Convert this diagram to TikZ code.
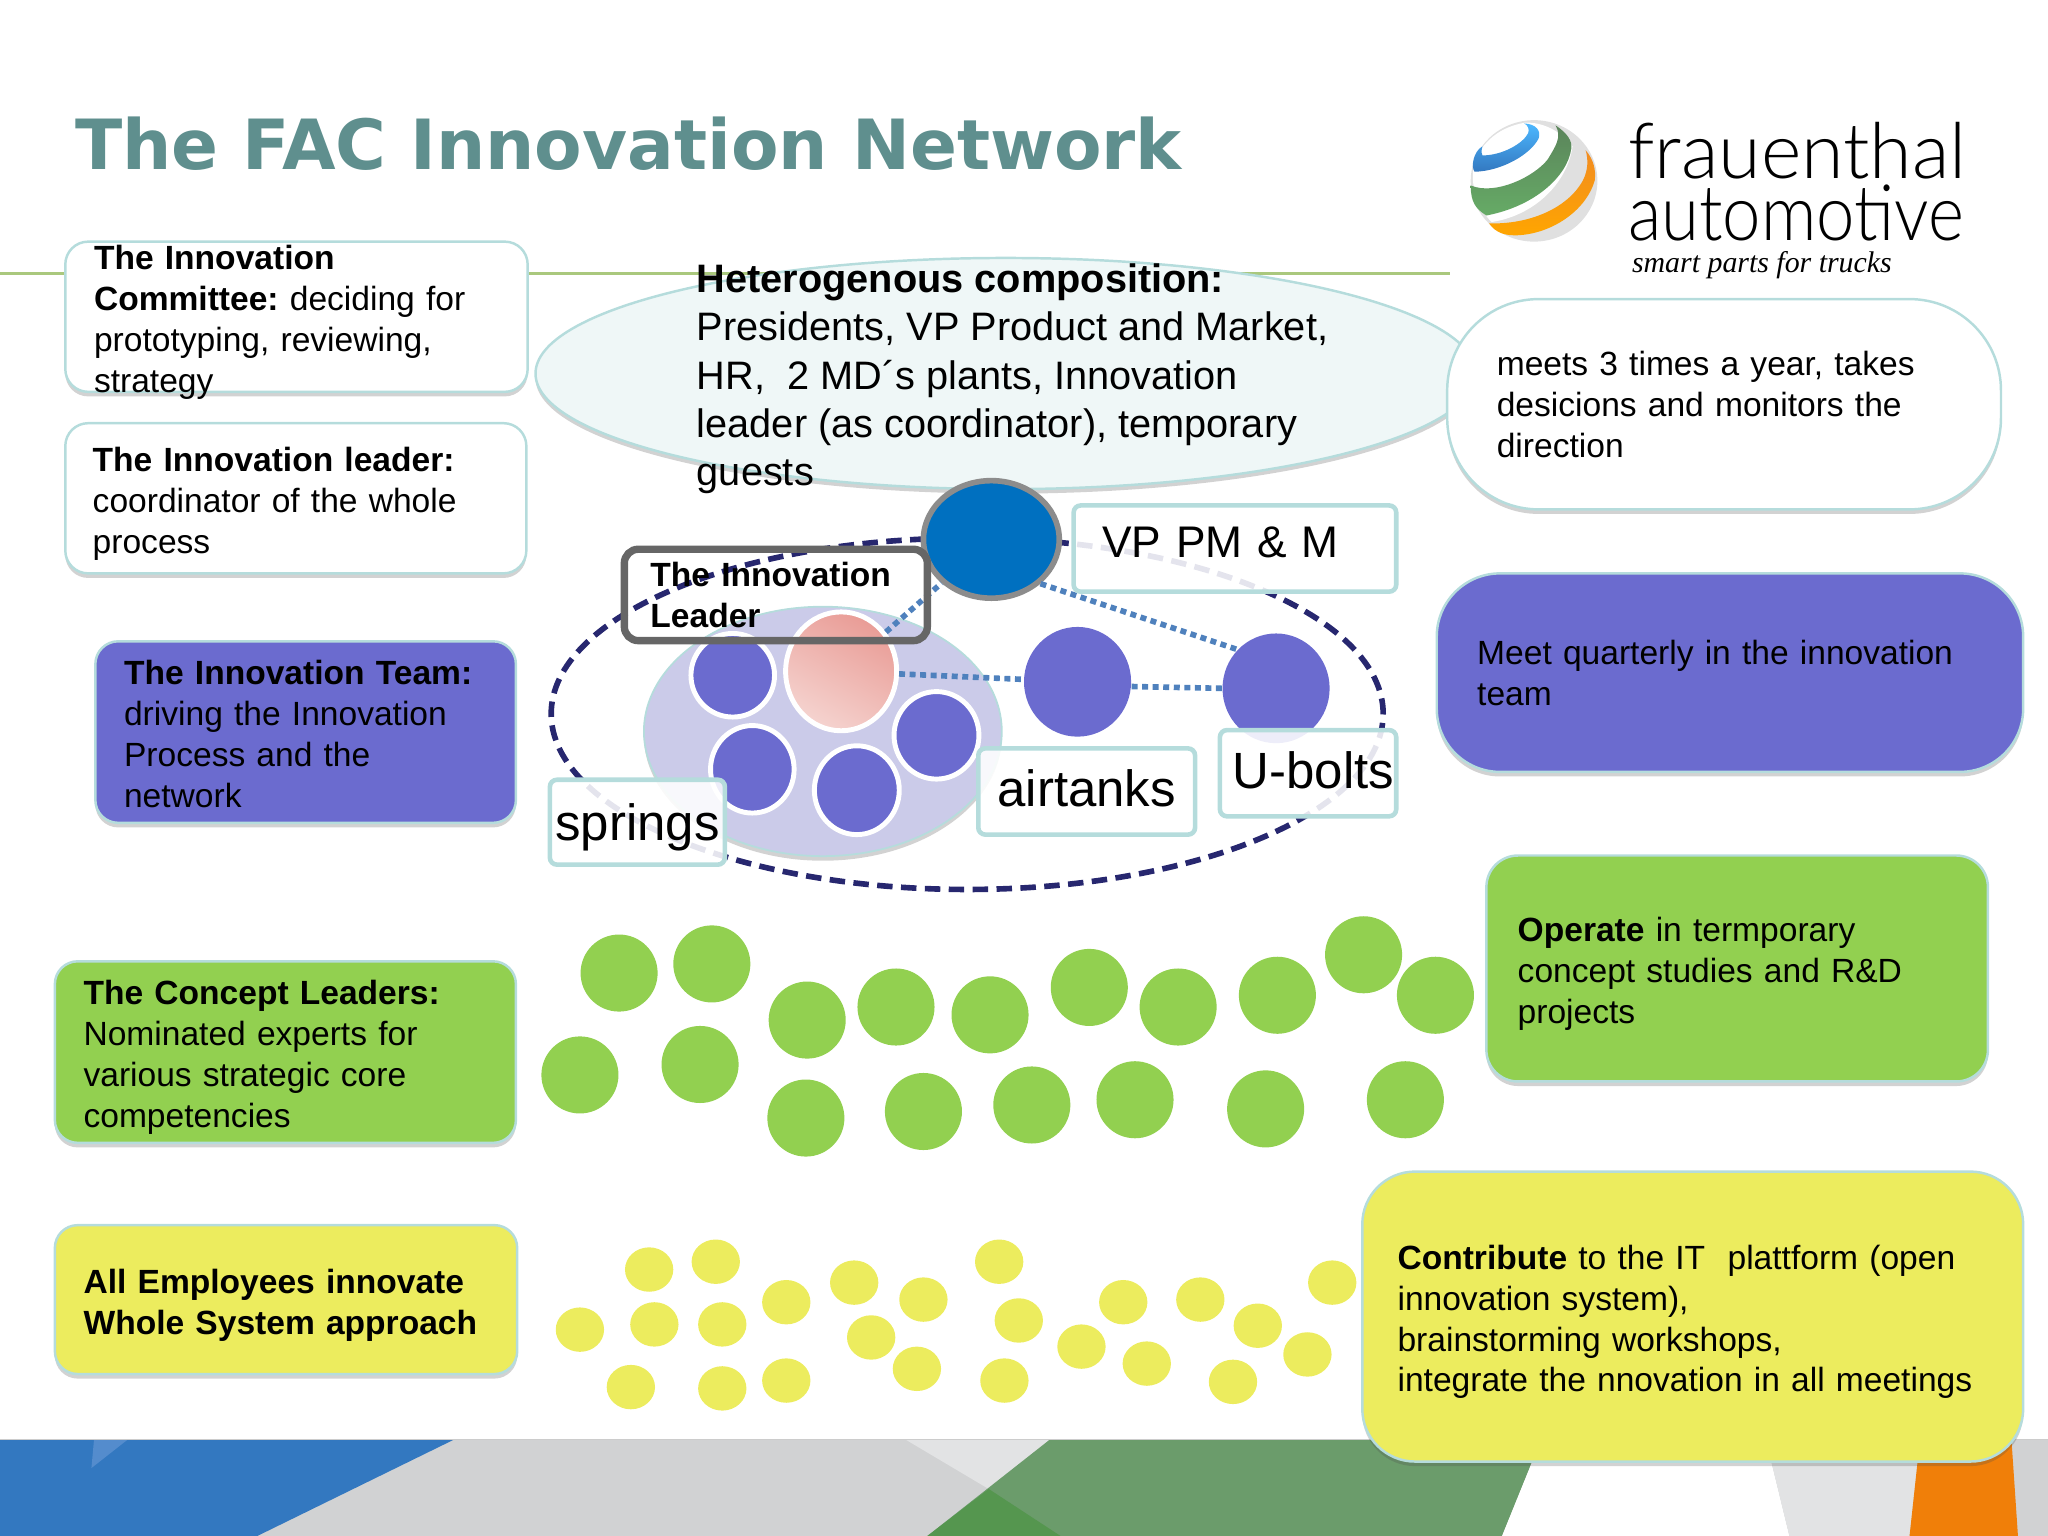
\documentclass[tikz,border=0pt]{standalone}
\usepackage{fontspec}
\setmainfont{Liberation Sans}
\newfontfamily\titlefont{DejaVu Sans}
\newfontfamily\logofont{Lato Light}
\newfontfamily\sloganfont{Liberation Serif}
\usetikzlibrary{shapes.geometric,shadows}
\newcommand{\un}{0.013061cm}
\newcommand{\bodysize}{\frenchspacing\fontsize{9.55}{11.63}\selectfont}
\newcommand{\bigsize}{\frenchspacing\fontsize{11.3}{13.67}\selectfont}
\newcommand{\labelsize}{\fontsize{14.5}{17}\selectfont}
\newcommand{\tagtext}[2]{\raisebox{#1}[0pt][0pt]{#2}}
\definecolor{titleteal}{HTML}{5F8F8E}
\definecolor{edgeteal}{HTML}{B5DCDC}
\definecolor{teampurple}{HTML}{6B6BCF}
\definecolor{poolpurple}{HTML}{CBCBE9}
\definecolor{conceptgreen}{HTML}{92D050}
\definecolor{staffyellow}{HTML}{ECEC5E}
\definecolor{netnavy}{HTML}{27276F}
\definecolor{linkblue}{HTML}{4F81BD}
\definecolor{vpblue}{HTML}{0070C0}
\definecolor{bandgrey}{HTML}{D1D2D3}
\definecolor{bandpale}{HTML}{E2E3E4}
\definecolor{bandblue}{HTML}{3378C0}
\definecolor{bandsky}{HTML}{548CCD}
\definecolor{bandgreen}{HTML}{6B9C6B}
\definecolor{banddeep}{HTML}{55964F}
\definecolor{bandorange}{HTML}{F07F09}
\definecolor{rulegreen}{HTML}{AAC87D}
\definecolor{pinktop}{HTML}{E99C96}
\definecolor{pinklow}{HTML}{F5D3CF}
\tikzset{
	softshadow/.style={drop shadow={shadow xshift=0pt,shadow yshift=-1.3pt,opacity=.25,fill=black!70}},
	textdrop/.style={execute at begin node={\rule{0pt}{#1}}},
	panel/.style={draw=edgeteal,line width=.7pt,softshadow,inner xsep=0pt,inner ysep=-9pt,align=left,font=\bodysize},
	tag/.style={draw=edgeteal,line width=1.3pt,fill=white,fill opacity=.88,text opacity=1,rounded corners=2pt,inner sep=0pt,font=\labelsize},
	member/.style={ellipse,fill=teampurple,inner sep=0pt},
	ringed/.style={member,draw=white,line width=1.4pt},
	link/.style={linkblue,line width=1.6pt,dash pattern=on 1.7pt off 1.3pt},
}
\begin{document}
\begin{tikzpicture}[x=\un,y=-\un]
	\useasboundingbox (0,0) rectangle (1568,1176);
	% band along the bottom
	\fill[bandgrey] (0,1102) rectangle (1568,1176);
	\fill[bandblue] (0,1102) -- (348,1102) -- (197,1176) -- (0,1176) -- cycle;
	\fill[bandsky] (72,1102) -- (98,1102) -- (70,1124) -- cycle;
	\fill[bandpale] (693,1102) -- (804,1102) -- (757,1140) -- cycle;
	\fill[bandgreen] (804,1102) -- (1180,1102) -- (1150,1176) -- (710,1176) -- cycle;
	\fill[banddeep] (757,1140) -- (812,1176) -- (710,1176) -- cycle;
	\fill[white] (1180,1102) -- (1352,1102) -- (1370,1176) -- (1150,1176) -- cycle;
	\fill[bandpale] (1352,1102) -- (1470,1102) -- (1462,1176) -- (1370,1176) -- cycle;
	\fill[bandorange] (1470,1102) -- (1540,1102) -- (1545,1176) -- (1462,1176) -- cycle;
	\draw[black!20] (0,1102) -- (1568,1102);
	%
	\node[anchor=west,inner sep=0pt,text=titleteal,font=\titlefont\bfseries\fontsize{19.7}{24}\selectfont] (title) at (57,110) {The FAC Innovation Network};
	\coordinate (rulea) at (0,209.5);
	\coordinate (ruleb) at (1110,209.5);
	\draw[rulegreen,line width=.7pt] (rulea) -- (ruleb);
	% logo
	\node[ellipse,inner sep=0pt,minimum width=97*\un,minimum height=93*\un,fill=black!12] (globe) at (1174.5,138.5) {};
	\fill[white] (1167,94) .. controls (1145,98) and (1132,112) .. (1128,128) .. controls (1126,145) and (1132,160) .. (1142,170) .. controls (1175,165) and (1200,140) .. (1204,112) .. controls (1195,100) and (1180,93) .. (1167,94) -- cycle;
	\shade[top color=blue!40!cyan!70!white,bottom color=bandblue] (1167,94.5) .. controls (1176,95) and (1180,100) .. (1178,106) .. controls (1172,118) and (1150,131) .. (1129,131.5) .. controls (1126,128) and (1128,116) .. (1135,112) .. controls (1134,116) and (1134,118) .. (1135,119) .. controls (1150,119) and (1166,110) .. (1170,102) .. controls (1171,99) and (1170,96) .. (1167,94.5) -- cycle;
	\shade[top color=bandgreen!85!black,bottom color=green!45!black!60!white] (1191,96) .. controls (1200,102) and (1204,108) .. (1203,114) .. controls (1200,135) and (1175,158) .. (1138,165) .. controls (1130,160) and (1126,155) .. (1126,142) .. controls (1145,150) and (1175,135) .. (1185,122) .. controls (1191,112) and (1196,105) .. (1191,96) -- cycle;
	\shade[top color=bandorange!90!white,bottom color=orange!70!yellow] (1214,115) .. controls (1220,122) and (1222,130) .. (1221,138) .. controls (1215,160) and (1190,178) .. (1164,180) .. controls (1152,181) and (1145,178) .. (1140,171) .. controls (1170,172) and (1200,160) .. (1212,138) .. controls (1216,130) and (1216,122) .. (1214,115) -- cycle;
	\node[anchor=west,inner sep=0pt,font=\logofont\fontsize{22}{22}\selectfont] (brandtop) at (1246,115) {frauenthal};
	\node[anchor=west,inner sep=0pt,font=\logofont\fontsize{22}{22}\selectfont] (brandlow) at (1246,163) {\scalebox{.89}[1]{automot{}ive}};
	\node[anchor=west,inner sep=0pt,font=\sloganfont\itshape\fontsize{8.5}{10}\selectfont] (slogan) at (1249,203) {smart parts for trucks};
	% left column
	\node[panel,textdrop=10pt,fill=white,rounded corners=6.5pt,minimum width=354*\un,minimum height=115*\un,text width=310*\un] (committee) at (227,242.5) {\textbf{The Innovation}\\\textbf{Committee:} deciding for\\prototyping, reviewing,\\strategy};
	\node[panel,textdrop=10pt,fill=white,rounded corners=6.5pt,minimum width=353*\un,minimum height=115*\un,text width=311*\un] (leadertext) at (226.5,381.5) {\textbf{The Innovation leader:}\\coordinator of the whole\\process};
	\node[panel,textdrop=8pt,fill=teampurple,rounded corners=6.5pt,minimum width=322*\un,minimum height=139*\un,text width=278*\un] (team) at (234,560.5) {\textbf{The Innovation Team:}\\driving the Innovation\\Process and the\\network};
	\node[panel,textdrop=10pt,fill=conceptgreen,rounded corners=6.5pt,minimum width=353*\un,minimum height=139*\un,text width=309*\un] (concept) at (218.5,805.5) {\textbf{The Concept Leaders:}\\Nominated experts for\\various strategic core\\competencies};
	\node[panel,textdrop=10pt,fill=staffyellow,rounded corners=6.5pt,minimum width=354*\un,minimum height=114*\un,text width=310*\un] (staff) at (219,995) {\textbf{All Employees innovate}\\\textbf{Whole System approach}};
	% composition cloud
	\node[ellipse,draw=edgeteal,line width=.7pt,fill=edgeteal!22,softshadow,inner sep=0pt,minimum width=720*\un,minimum height=177*\un] (cloud) at (770,286) {};
	\node[anchor=west,inner sep=0pt,align=left,font=\bigsize] (cloudtext) at (533,290) {\textbf{Heterogenous composition:}\\Presidents, VP Product and Market,\\HR,\ \ 2 MD´s plants, Innovation\\leader (as coordinator), temporary\\guests};
	% right column
	\node[panel,fill=white,rounded corners=26pt,minimum width=424*\un,minimum height=161*\un,text width=348*\un] (rhythm) at (1320,309.5) {meets 3 times a year, takes\\desicions and monitors the\\direction};
	\node[panel,fill=teampurple,rounded corners=18pt,minimum width=449*\un,minimum height=152*\un,text width=387*\un] (quarterly) at (1324.5,515) {Meet quarterly in the innovation\\team};
	\node[panel,textdrop=10pt,fill=conceptgreen,rounded corners=9pt,minimum width=384*\un,minimum height=173*\un,text width=336*\un] (operate) at (1330,741.5) {\textbf{Operate} in termporary\\concept studies and R\&D\\projects};
	\node[panel,textdrop=10pt,fill=staffyellow,rounded corners=15pt,minimum width=506*\un,minimum height=222*\un,text width=452*\un] (contribute) at (1296,1008) {\textbf{Contribute} to the IT\ \ plattform (open\\innovation system),\\brainstorming workshops,\\integrate the nnovation in all meetings};
	% network
	\node[ellipse,draw=edgeteal,line width=.5pt,fill=poolpurple,softshadow,inner sep=0pt,minimum width=274*\un,minimum height=191*\un] (pool) at (630,560) {};
	\node[ellipse,draw=netnavy,line width=1.6pt,dash pattern=on 4.4pt off 2.4pt,inner sep=0pt,minimum width=637*\un,minimum height=269*\un] (network) at (740.5,546.5) {};
	\node[ringed,minimum width=64*\un,minimum height=64*\un] (ma) at (561,517) {};
	\node[ringed,minimum width=65*\un,minimum height=67*\un] (mb) at (717,563) {};
	\node[ringed,minimum width=64*\un,minimum height=67*\un] (mc) at (576,589) {};
	\node[ringed,minimum width=65*\un,minimum height=68*\un] (md) at (656,605) {};
	\node[ellipse,draw=white,line width=1.4pt,top color=pinktop,bottom color=pinklow,shading angle=-30,inner sep=0pt,minimum width=85*\un,minimum height=91*\un] (pink) at (644,514) {};
	\node[member,minimum width=82*\un,minimum height=84*\un] (air) at (825,522) {};
	\node[member,minimum width=82*\un,minimum height=84*\un] (ubolt) at (977,527) {};
	\node[ellipse,draw=black!45,line width=1.6pt,fill=vpblue,inner sep=0pt,minimum width=104*\un,minimum height=90*\un] (vp) at (759,413) {};
	\draw[link] (pink) -- (vp);
	\draw[link] (pink) -- (air);
	\draw[link] (air.-5) -- (ubolt.west);
	\draw[link] (vp.-42) -- (ubolt.135);
	%
	\node[tag,minimum width=247*\un,minimum height=66*\un,text width=203*\un,align=left,font=\fontsize{12.6}{15}\selectfont] (vptag) at (945.5,420) {\tagtext{-2.6pt}{VP PM \& M}};
	\node[tag,minimum width=166*\un,minimum height=66*\un] (airtag) at (832,606) {\tagtext{-4.4pt}{airtanks}};
	\node[tag,minimum width=135*\un,minimum height=66*\un] (bolttag) at (1001.5,592) {\hspace*{3pt}\tagtext{-4.3pt}{U-bolts}};
	\node[tag,minimum width=134*\un,minimum height=65*\un] (springtag) at (488,629.5) {\tagtext{-5.2pt}{springs}};
	\node[draw=black!60,line width=2.1pt,rounded corners=4pt,inner xsep=0pt,inner ysep=-5pt,minimum width=232*\un,minimum height=70*\un,text width=192*\un,align=left,font=\bodysize\bfseries] (leadertag) at (594,455.5) {The Innovation\\Leader};
	% concept leaders
	\foreach \px/\py [count=\n] in {474/745,545/738,444/823,536/815,618/781,686/771,758/777,834/756,902/771,978/762,1044/731,1099/762,617/856,707/851,790/846,869/842,969/849,1076/842}
		\node[circle,fill=conceptgreen,inner sep=0pt,minimum size=59*\un] (lead\n) at (\px,\py) {};
	% employees
	\foreach \px/\py [count=\n] in {497/972,548/966,444/1018,501/1014,553/1014,602/997,654/982,707/995,667/1024,702/1048,483/1062,553/1063,602/1057,765/966,780/1011,769/1057,860/997,919/995,828/1031,878/1044,963/1015,1020/982,1001/1037,944/1058}
		\node[ellipse,fill=staffyellow,inner sep=0pt,minimum width=37*\un,minimum height=34*\un] (emp\n) at (\px,\py) {};
\end{tikzpicture}
\end{document}
